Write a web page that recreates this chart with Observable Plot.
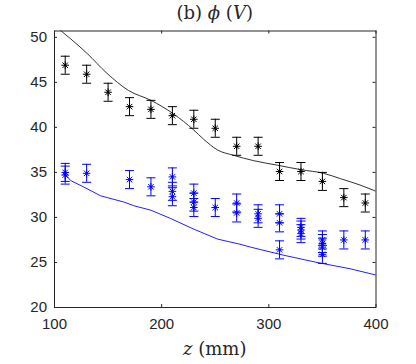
<!DOCTYPE html>
<html><head><meta charset="utf-8">
<script src="https://cdn.jsdelivr.net/npm/d3@7"></script>
<script src="https://cdn.jsdelivr.net/npm/@observablehq/plot@0.6"></script>
<style>
body{margin:0;background:#fff}
#chart{width:416px;height:364px}
</style>
</head><body><div id="chart"></div>
<script>
// ---- data ----
const xTicks = [100, 200, 300, 400];
const yTicks = [20, 25, 30, 35, 40, 45, 50];

// measured phi, black series (z in mm)
const zExpBlack   = [110, 130, 150, 170, 190, 210, 230, 250, 270, 290, 310, 330, 350, 370, 390];
const phiExpBlack = [46.9, 45.9, 43.9, 42.3, 42.0, 41.3, 40.9, 39.9, 37.9, 37.9, 35.1, 35.1, 34.0, 32.2, 31.6];
const errExpBlack = [1.0, 1.0, 1.0, 1.0, 1.0, 1.0, 1.0, 1.0, 1.0, 1.0, 1.0, 1.0, 1.0, 1.0, 1.0];

// measured phi, blue series
const zExpBlue   = [110, 110, 130, 170, 190, 210, 210, 210, 230, 230, 230, 250, 270, 270, 290, 290, 310, 310, 310, 330, 330, 330, 350, 350, 350, 350, 370, 390];
const phiExpBlue = [35.0, 34.7, 34.9, 34.2, 33.4, 34.5, 32.9, 32.3, 32.7, 31.7, 31.1, 31.1, 31.6, 30.5, 30.4, 29.9, 30.4, 29.4, 26.4, 28.9, 28.6, 28.2, 27.5, 27.1, 26.7, 25.9, 27.5, 27.5];
const errExpBlue = [1.0, 1.0, 1.0, 1.0, 1.0, 1.0, 1.0, 1.0, 1.0, 1.0, 1.0, 1.0, 1.0, 1.0, 1.0, 1.0, 1.0, 1.0, 1.0, 1.0, 1.0, 1.0, 1.0, 1.0, 1.0, 1.0, 1.0, 1.0];

// model curves
const zModelBlack   = [100, 130.5, 149, 169, 190, 211, 230, 239, 252, 267, 286, 308, 330, 351, 367, 385, 400];
const phiModelBlack = [51.3, 48.2, 46.0, 44.1, 43.0, 41.5, 39.7, 38.7, 37.5, 36.9, 36.3, 35.8, 35.3, 34.9, 34.3, 33.6, 32.9];
const zModelBlue    = [110, 115, 127, 143, 165, 174, 190, 208, 230, 252, 274, 283, 314, 345, 376, 400];
const phiModelBlue  = [34.8, 34.1, 33.4, 32.4, 31.7, 31.3, 30.8, 29.9, 28.7, 27.6, 27.0, 26.7, 25.8, 25.0, 24.3, 23.6];

// ---- tables ----
const expBlack = zExpBlack.map((z, i) => ({z, phi: phiExpBlack[i], err: errExpBlack[i]}));
const expBlue = zExpBlue.map((z, i) => ({z, phi: phiExpBlue[i], err: errExpBlue[i]}));
const modelBlack = zModelBlack.map((z, i) => ({z, phi: phiModelBlack[i]}));
const modelBlue = zModelBlue.map((z, i) => ({z, phi: phiModelBlue[i]}));

// ---- symbols ----
const asterisk = {
  draw(ctx, size) {
    const r = Math.sqrt(size / Math.PI);
    const d = r * 0.72;
    ctx.moveTo(0, -r); ctx.lineTo(0, r);
    ctx.moveTo(-r, 0); ctx.lineTo(r, 0);
    ctx.moveTo(-d, -d); ctx.lineTo(d, d);
    ctx.moveTo(-d, d); ctx.lineTo(d, -d);
  }
};
const hbar = {
  draw(ctx, size) {
    const r = Math.sqrt(size / Math.PI);
    ctx.moveTo(-r, 0); ctx.lineTo(r, 0);
  }
};

const BLUE = "#0000ff", BLACK = "#000000";
const plotH = 364 - 30.5 - 57, plotW = 416 - 54 - 40.5;

function errMarks(data, color) {
  return [
    Plot.ruleX(data, {x: "z", y1: d => d.phi - d.err, y2: d => d.phi + d.err, stroke: color, strokeWidth: 1}),
    Plot.dot(data, {x: "z", y: d => d.phi + d.err, symbol: hbar, r: 4.5, stroke: color, strokeWidth: 1}),
    Plot.dot(data, {x: "z", y: d => d.phi - d.err, symbol: hbar, r: 4.5, stroke: color, strokeWidth: 1}),
    Plot.dot(data, {x: "z", y: "phi", symbol: asterisk, r: 3.8, stroke: color, strokeWidth: 1}),
    Plot.dot(data, {x: "z", y: "phi", r: 1.1, fill: color, stroke: "none"})
  ];
}

const plot = Plot.plot({
  width: 416, height: 364,
  marginLeft: 54, marginRight: 40.5, marginTop: 30.5, marginBottom: 57,
  style: {fontFamily: "'Liberation Sans', Arial, sans-serif", fontSize: "15px", color: "#262626", background: "#fff", overflow: "visible"},
  x: {domain: [100, 400]},
  y: {domain: [20, 50.7]},
  marks: [
    Plot.line(modelBlack, {x: "z", y: "phi", stroke: "#333333", strokeWidth: 1, clip: true, curve: "monotone-x"}),
    Plot.line(modelBlue, {x: "z", y: "phi", stroke: "#2020ff", strokeWidth: 1, clip: true}),
    ...errMarks(expBlack, BLACK),
    ...errMarks(expBlue, BLUE),
    Plot.frame({stroke: "#262626", strokeWidth: 1}),
    Plot.ruleX(xTicks, {x: d => d, insetTop: plotH - 3, stroke: "#262626"}),
    Plot.ruleX(xTicks, {x: d => d, insetBottom: plotH - 3, stroke: "#262626"}),
    Plot.ruleY(yTicks, {y: d => d, insetRight: plotW - 3, stroke: "#262626"}),
    Plot.ruleY(yTicks, {y: d => d, insetLeft: plotW - 3, stroke: "#262626"}),
    Plot.axisX({ticks: xTicks, tickSize: 0, tickPadding: 11, label: null, fill: "#262626"}),
    Plot.axisY({ticks: yTicks, tickSize: 0, tickPadding: 7.5, label: null, fill: "#262626"})
  ]
});
document.getElementById("chart").appendChild(plot);

// title and x label with mixed italic, as real text
const svg = d3.select(plot);
const cx = 54 + plotW / 2;
const serif = "'DejaVu Serif', 'Liberation Serif', serif";
const title = svg.append("text").attr("x", cx).attr("y", 19).attr("text-anchor", "middle")
  .attr("font-family", serif).attr("font-size", 18).attr("fill", "#262626");
title.append("tspan").text("(b) ");
title.append("tspan").attr("font-style", "italic").text("ϕ");
title.append("tspan").text(" (");
title.append("tspan").attr("font-style", "italic").text("V");
title.append("tspan").text(")");
const xl = svg.append("text").attr("x", cx).attr("y", 355).attr("text-anchor", "middle")
  .attr("font-family", serif).attr("font-size", 18).attr("fill", "#262626");
xl.append("tspan").attr("font-style", "italic").text("z");
xl.append("tspan").text(" (mm)");
</script>
</body></html>
